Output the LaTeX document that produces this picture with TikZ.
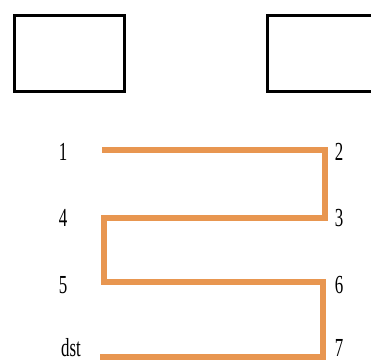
\documentclass[tikz,border=0pt]{standalone}
\usepackage{fontspec}
\setmainfont{Liberation Serif}
\usepackage{tikz}
\usetikzlibrary{positioning}
\definecolor{wireorange}{RGB}{232,150,80}
\newcommand{\narrowtxt}[1]{\scalebox{0.65}[1]{#1}}

\begin{document}
\begin{tikzpicture}[
    x=1pt, y=-1pt,
    box/.style={draw, line width=3pt, minimum width=110pt, minimum height=76pt, inner sep=0pt},
    lbl/.style={font=\fontsize{26}{26}\selectfont, inner sep=0pt},
    wire/.style={draw=wireorange, line width=5.5pt, line join=miter}
]
\clip (0,0) rectangle (371,362);
\node[box] (src) at (69.5,53.5) {};
\node[box] (dstbox) at (322.5,53.5) {};

% labels on both sides
\node[lbl] (l1) at (63,152) {\narrowtxt{1}};
\node[lbl] (l2) at (339,152) {\narrowtxt{2}};
\node[lbl] (l4) at (63,218) {\narrowtxt{4}};
\node[lbl] (l3) at (339,218) {\narrowtxt{3}};
\node[lbl] (l5) at (63,285) {\narrowtxt{5}};
\node[lbl] (l6) at (339,285) {\narrowtxt{6}};
\node[lbl] (ldst) at (71,348) {\narrowtxt{dst}};
\node[lbl] (l7) at (339,348) {\narrowtxt{7}};

% turning points of the wire
\coordinate (p1) at (102,150);
\coordinate (p2) at (325,150);
\coordinate (p3) at (325,218);
\coordinate (p4) at (104,218);
\coordinate (p5) at (104,282);
\coordinate (p6) at (323,282);
\coordinate (p7) at (323,357);
\coordinate (pd) at (100,357);

\draw[wire] (p1) -- (p2) -- (p3) -- (p4) -- (p5) -- (p6) -- (p7) -- (pd);
\end{tikzpicture}
\end{document}
